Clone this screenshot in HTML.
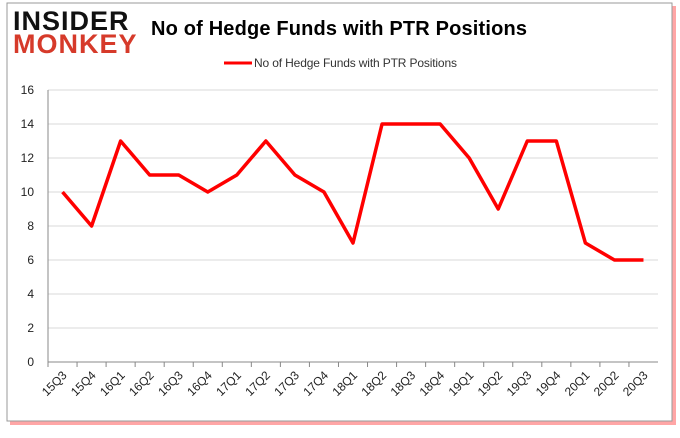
<!DOCTYPE html>
<html><head><meta charset="utf-8"><style>
body{margin:0;background:#fff;width:680px;height:433px;overflow:hidden;font-family:"Liberation Sans",sans-serif}
</style></head><body>
<svg width="680" height="433">
<rect x="10" y="6" width="666" height="419" fill="#f00" opacity="0.35"/>
<rect x="7" y="3" width="665" height="418" fill="#fff" stroke="#999"/>
<text x="13" y="30" font-size="27" font-weight="bold" fill="#111" letter-spacing="1">INSIDER</text>
<text x="13" y="53" font-size="27" font-weight="bold" fill="#d63a2a" letter-spacing="1">MONKEY</text>
<text x="339" y="35" font-size="20" font-weight="bold" text-anchor="middle" textLength="376">No of Hedge Funds with PTR Positions</text>
<line x1="224" y1="63" x2="252" y2="63" stroke="#f00" stroke-width="3"/>
<text x="254" y="67" font-size="12" fill="#333" textLength="203">No of Hedge Funds with PTR Positions</text>
<g id="grid"></g><g id="axes"></g><g id="series"></g>
</svg>
<script>
const categories=["15Q3","15Q4","16Q1","16Q2","16Q3","16Q4","17Q1","17Q2","17Q3","17Q4","18Q1","18Q2","18Q3","18Q4","19Q1","19Q2","19Q3","19Q4","20Q1","20Q2","20Q3"];
const values=[10,8,13,11,11,10,11,13,11,10,7,14,14,14,12,9,13,13,7,6,6];
const yTicks=[0,2,4,6,8,10,12,14,16];
const L=48,R=658,T=90,B=362,NS="http://www.w3.org/2000/svg";
const bw=(R-L)/categories.length;
const x=i=>L+bw*(i+0.5), y=v=>B-(v/16)*(B-T);
function mk(p,t,a){const e=document.createElementNS(NS,t);for(const k in a)e.setAttribute(k,a[k]);document.getElementById(p).appendChild(e);return e;}
yTicks.forEach(v=>{
 const g=mk('grid','line',{x1:L,x2:R,y1:y(v),y2:y(v),stroke:v===0?'#888':'#d9d9d9'});
 
 
 const t=mk('axes','text',{x:L-14,y:y(v)+4,'font-size':12,'text-anchor':'end',fill:'#222'});t.textContent=v;
 
 
});
const ax=mk('axes','line',{x1:L,x2:L,y1:T,y2:B,stroke:'#888'});


categories.forEach((c,i)=>{
 const tk=mk('axes','line',{x1:L+bw*i,x2:L+bw*i,y1:B,y2:B+5,stroke:'#888'});
 
 
 const t=mk('axes','text',{x:x(i)+5,y:B+14,'font-size':12,'text-anchor':'end',fill:'#222',transform:`rotate(-45 ${x(i)+5} ${B+14})`});t.textContent=c;
 
 
});
const ln=mk('series','polyline',{points:values.map((v,i)=>x(i)+','+y(v)).join(' '),fill:'none',stroke:'#f00','stroke-width':3.5,'stroke-linejoin':'round'});


</script>
</body></html>
